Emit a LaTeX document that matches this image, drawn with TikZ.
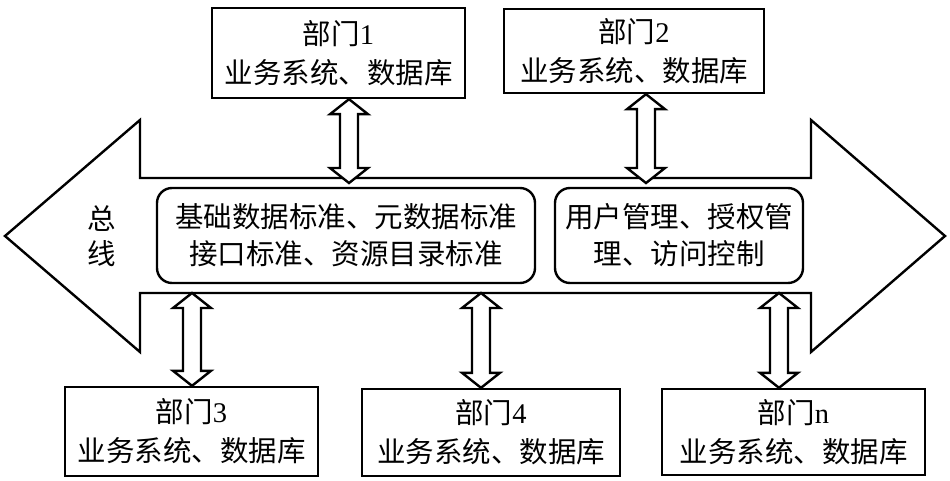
\documentclass[tikz,border=0pt]{standalone}
\usepackage{fontspec}
\setmainfont{Liberation Serif}
\newfontfamily\cjk{Noto Sans CJK SC}
\usetikzlibrary{calc}
\begin{document}
\begin{tikzpicture}[x=1pt,y=-1pt,line width=2.4pt,line join=miter,
  txt/.style={align=center,font=\cjk\fontsize{28.5}{39}\selectfont,inner sep=0pt},
  dept/.style={txt,draw,fill=white},
  rbox/.style={txt,draw,fill=white,rounded corners=15pt,font=\cjk\fontsize{28.5}{37}\selectfont},
  darrow/.style={draw,fill=white,miter limit=20,
    to path={let \p1=(\tikztostart),\p2=(\tikztotarget) in
      (\x1,\y1) -- (\x1-19pt,\y1-15pt) -- (\x1-9pt,\y1-15pt) -- (\x1-9pt,\y2+15pt)
      -- (\x1-19pt,\y2+15pt) -- (\x1,\y2) -- (\x1+19pt,\y2+15pt) -- (\x1+9pt,\y2+15pt)
      -- (\x1+9pt,\y1-15pt) -- (\x1+19pt,\y1-15pt) -- cycle}}]
\useasboundingbox (0,0) rectangle (950,481);
% bus
\draw[fill=white,miter limit=20] (5,236) -- (140,120) -- (140,178) -- (811,178) -- (811,120)
  -- (945,236) -- (811,352) -- (811,293) -- (140,293) -- (140,352) -- cycle;
\node[txt,font=\cjk\fontsize{28.5}{35}\selectfont] (bus) at (102,236) {总\\线};
\node[rbox,minimum width=378pt,minimum height=95pt] (std) at (346,235.5)
  {基础数据标准、元数据标准\\接口标准、资源目录标准};
\node[rbox,minimum width=248pt,minimum height=95pt] (auth) at (679,235.5)
  {用户管理、授权管\\理、访问控制};
% departments
\node[dept,minimum width=253pt,minimum height=90pt] (b1) at (338.5,53) {部门{\rmfamily 1}\\业务系统、数据库};
\node[dept,minimum width=260pt,minimum height=84pt] (b2) at (634,51) {部门{\rmfamily 2}\\业务系统、数据库};
\node[dept,minimum width=253pt,minimum height=89pt] (b3) at (191.5,431.5) {部门{\rmfamily 3}\\业务系统、数据库};
\node[dept,minimum width=258pt,minimum height=87pt] (b4) at (491,432.5) {部门{\rmfamily 4}\\业务系统、数据库};
\node[dept,minimum width=263pt,minimum height=86pt] (bn) at (793.5,432) {部门{\rmfamily n}\\业务系统、数据库};
% bus attachment points
\coordinate (t1) at (349,183);
\coordinate (t2) at (646,183);
\coordinate (s3) at (192,293);
\coordinate (s4) at (481,293);
\coordinate (sn) at (779,293);
% connectors
\draw[darrow] (b1.south -| t1) to (t1);
\draw[darrow] (b2.south -| t2) to (t2);
\draw[darrow] (s3) to (b3.north -| s3);
\draw[darrow] (s4) to (b4.north -| s4);
\draw[darrow] (sn) to (bn.north -| sn);
\end{tikzpicture}
\end{document}
